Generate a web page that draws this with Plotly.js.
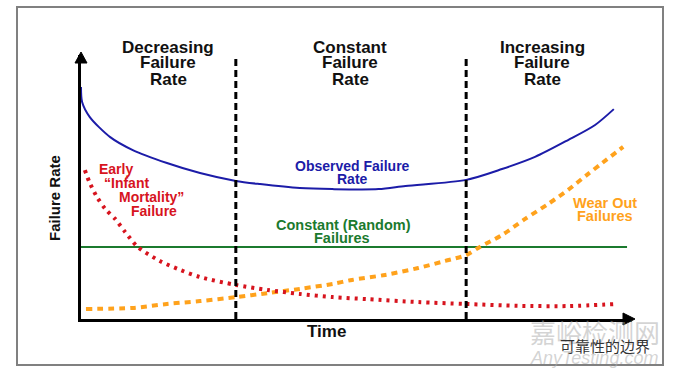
<!DOCTYPE html>
<html>
<head>
<meta charset="utf-8">
<script src="https://cdn.plot.ly/plotly-3.0.1.min.js"></script>
<style>html,body{margin:0;padding:0;background:#fff;}#chart{width:675px;height:373px;}</style>
</head>
<body>
<div id="chart"></div>
<script>
// ---- data (time axis 0-100, failure-rate axis 0-100) ----
const observedTime = [0, 0.2, 1.6, 5.3, 9.4, 15.6, 21.6, 28.1, 32.5, 39.7, 45.6, 54, 58.9, 69.9, 76.4, 82.4, 88.4, 93.3, 96.7];
const observedRate = [87.9, 82.2, 76.5, 68.9, 64.0, 59.1, 55.3, 52.3, 51.1, 49.6, 49.2, 49.2, 50.4, 52.7, 56.8, 61.4, 67.8, 73.5, 79.5];

const infantTime = [0.7, 1.6, 2.9, 4.4, 6.2, 8.0, 10.3, 14.3, 18.0, 21.6, 28.1, 33.8, 39.7, 45.7, 52.1, 61.2, 69.9, 79.3, 88.4, 97.3];
const infantRate = [56.4, 51.5, 46.2, 41.7, 37.9, 33.0, 27.3, 22.0, 18.6, 15.9, 12.9, 11.0, 9.5, 8.3, 7.5, 6.4, 5.7, 5.0, 4.9, 5.7];

const wearTime = [0.9, 9.4, 15.6, 21.6, 28.1, 33.8, 39.7, 45.7, 49.2, 55.2, 61.2, 66.1, 69.9, 72.4, 76.4, 80.6, 84.8, 88.4, 92.0, 94.6, 98.4];
const wearRate = [3.8, 4.2, 5.7, 6.8, 8.3, 9.8, 11.4, 13.3, 14.8, 16.7, 19.3, 22.0, 24.2, 27.3, 31.8, 37.9, 43.6, 48.9, 54.9, 59.1, 65.2];

const constantTime = [0, 99.1];
const constantRate = [27.3, 27.3];

const phaseBoundaries = [28.1, 69.9];
const phaseLabels = [["Decreasing", "Failure", "Rate"], ["Constant", "Failure", "Rate"], ["Increasing", "Failure", "Rate"]];
const xTitle = "Time";
const yTitle = "Failure Rate";

// ---- layout helpers (pixel -> paper) ----
const W = 675, H = 373, ML = 81, MR = 43, MT = 55, MB = 54;
const PW = W - ML - MR, PH = H - MT - MB;
const px = x => (x - ML) / PW;
const py = y => (H - MB - y) / PH;

const FONT = "Liberation Sans, Arial, sans-serif";
const RED = "#d7141e", BLUE = "#1c1ca8", GREEN = "#1b7a2e", ORANGE = "#ffa21c";

const traces = [
  {x: constantTime, y: constantRate, mode: "lines", line: {color: GREEN, width: 2}},
  {x: wearTime, y: wearRate, mode: "lines", line: {color: ORANGE, width: 4, dash: "6px,5px", shape: "spline", smoothing: 0.8}},
  {x: infantTime, y: infantRate, mode: "lines", line: {color: RED, width: 4, dash: "3px,5px", shape: "spline", smoothing: 0.8}},
  {x: observedTime, y: observedRate, mode: "lines", line: {color: BLUE, width: 2, shape: "spline", smoothing: 0.8}}
];

const ann = [];
function txt(t, x, y, size, color, xanchor, extra) {
  ann.push(Object.assign({text: t, x: px(x), y: py(y), xref: "paper", yref: "paper",
    xanchor: xanchor || "center", yanchor: "middle", showarrow: false,
    font: {family: FONT, size: size, color: color}}, extra || {}));
}
// phase headers
const headerX = [168, 350, 542];
const headerY = [47, 63, 79];
phaseLabels.forEach((lines, i) => lines.forEach((l, j) => txt("<b>" + l + "</b>", headerX[i], headerY[j], 17, "#111")));
// curve labels
txt("<b>Observed Failure</b>", 352, 166, 14, BLUE);
txt("<b>Rate</b>", 352, 179, 14, BLUE);
txt("<b>Early</b>", 97, 169, 14, RED, "left");
txt("<b>\u201cInfant</b>", 102, 183, 14, RED, "left");
txt("<b>Mortality\u201d</b>", 117, 197, 14, RED, "left");
txt("<b>Failure</b>", 129, 211, 14, RED, "left");
txt("<b>Constant (Random)</b>", 343, 225, 14.5, GREEN);
txt("<b>Failures</b>", 342, 238, 14.5, GREEN);
txt("<b>Wear Out</b>", 605, 203, 14.5, ORANGE);
txt("<b>Failures</b>", 605, 216, 14.5, ORANGE);
// axis titles
txt("<b>" + xTitle + "</b>", 326, 331, 17, "#111");
txt("<b>" + yTitle + "</b>", 54, 198, 15, "#111", "center", {textangle: -90});
// watermark
txt("嘉峪检测网", 595, 331, 26, "rgba(170,170,170,0.5)", "center", {font: {family: "Noto Sans CJK SC", size: 26, color: "rgba(170,170,170,0.5)"}});
txt("可靠性的边界", 558, 345, 15, "#333", "left", {font: {family: "Noto Sans CJK SC", size: 15, color: "#333"}});
txt("<i>AnyTesting.com</i>", 594, 358, 18, "rgba(175,175,175,0.55)");

const shapes = [
  // outer frame
  {type: "rect", xref: "paper", yref: "paper", x0: px(17), x1: px(663), y0: py(365), y1: py(7), line: {color: "#808080", width: 2}, layer: "below"},
  // axis arrows
  {type: "path", xref: "paper", yref: "paper", path: `M ${px(75)},${py(63)} L ${px(81)},${py(52)} L ${px(87)},${py(63)} Z`, fillcolor: "#000", line: {color: "#000", width: 1}},
  {type: "path", xref: "paper", yref: "paper", path: `M ${px(623)},${py(313)} L ${px(635)},${py(319)} L ${px(623)},${py(325)} Z`, fillcolor: "#000", line: {color: "#000", width: 1}}
];
phaseBoundaries.forEach(b => shapes.push({type: "line", xref: "x", yref: "paper", x0: b, x1: b, y0: 0, y1: 1, line: {color: "#000", width: 3, dash: "7px,4px"}}));

const layout = {
  width: W, height: H,
  margin: {l: ML, r: MR, t: MT, b: MB, pad: 0},
  paper_bgcolor: "#fff", plot_bgcolor: "#fff",
  showlegend: false, hovermode: false,
  xaxis: {range: [0, 100], showline: true, linecolor: "#000", linewidth: 3, showgrid: false, zeroline: false, showticklabels: false, ticks: "", fixedrange: true},
  yaxis: {range: [0, 100], showline: true, linecolor: "#000", linewidth: 3, showgrid: false, zeroline: false, showticklabels: false, ticks: "", fixedrange: true},
  annotations: ann,
  shapes: shapes
};
Plotly.newPlot("chart", traces, layout, {displayModeBar: false, staticPlot: true});
</script>
</body>
</html>
